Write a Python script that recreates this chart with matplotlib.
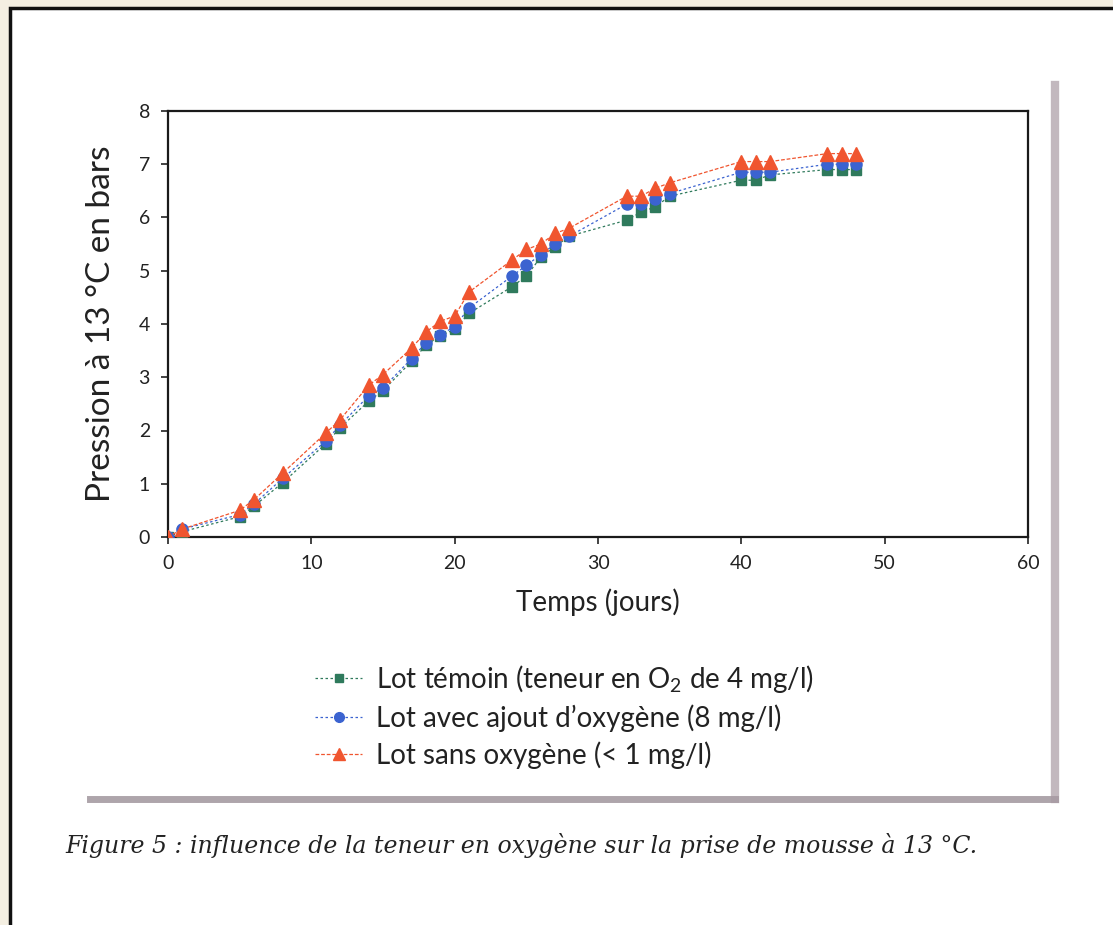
import matplotlib.pyplot as plt
from matplotlib.lines import Line2D
from matplotlib.patches import Rectangle

# days of measurement
jours = [0, 1, 5, 6, 8, 11, 12, 14, 15, 17, 18, 19, 20, 21, 24, 25, 26, 27, 28,
         32, 33, 34, 35, 40, 41, 42, 46, 47, 48]

# pressure (bars) at 13 C
temoin = [0, 0.10, 0.38, 0.58, 1.02, 1.75, 2.05, 2.55, 2.75, 3.30, 3.60, 3.78, 3.90, 4.20,
          4.70, 4.90, 5.25, 5.45, 5.65, 5.95, 6.10, 6.20, 6.40, 6.70, 6.70, 6.80, 6.90, 6.90, 6.90]
avec_o2 = [0, 0.15, 0.42, 0.62, 1.10, 1.80, 2.10, 2.65, 2.80, 3.35, 3.65, 3.80, 3.95, 4.30,
           4.90, 5.10, 5.30, 5.50, 5.65, 6.25, 6.25, 6.35, 6.45, 6.85, 6.85, 6.85, 7.00, 7.00, 7.00]
sans_o2 = [0, 0.15, 0.50, 0.70, 1.20, 1.95, 2.20, 2.85, 3.05, 3.55, 3.85, 4.05, 4.15, 4.60,
           5.20, 5.40, 5.50, 5.70, 5.80, 6.40, 6.40, 6.55, 6.65, 7.05, 7.05, 7.05, 7.20, 7.20, 7.20]

labels = ['Lot témoin (teneur en O$_2$ de 4 mg/l)',
          "Lot avec ajout d\u2019oxygène (8 mg/l)",
          'Lot sans oxygène (< 1 mg/l)']

plt.rcParams['font.family'] = ['Lato', 'DejaVu Sans']
plt.rcParams['mathtext.default'] = 'regular'

W, H = 1113, 925
fig = plt.figure(figsize=(W / 100, H / 100), dpi=100)
fig.patch.set_facecolor('#f4efe2')

# white page inside a black frame (scan screenshot)
fig.add_artist(Rectangle((10 / W, -0.05), 1.1, 1.05 - 8 / H, transform=fig.transFigure,
                         facecolor='white', edgecolor='#111111', lw=2.5, zorder=0))

ax = fig.add_axes([168 / W, 1 - 537 / H, (1028 - 168) / W, (537 - 111) / H])

ax.plot(jours, temoin, color='#2f7a5c', ls=(0, (2, 2)), lw=0.9, marker='s', ms=7,
        mfc='#2f7a5c', mec='#2f7a5c', zorder=3)
ax.plot(jours, avec_o2, color='#3b63d0', ls=(0, (2, 2)), lw=0.9, marker='o', ms=8,
        mfc='#3b63d0', mec='#3b63d0', zorder=4)
ax.plot(jours, sans_o2, color='#f0552f', ls=(0, (3, 1.5)), lw=0.9, marker='^', ms=10,
        mfc='#f0552f', mec='#f0552f', zorder=5)

ax.set_xlim(0, 60)
ax.set_ylim(0, 8)
ax.set_xticks([0, 10, 20, 30, 40, 50, 60])
ax.set_yticks(range(0, 9))
ax.tick_params(labelsize=14, length=5, width=1.2, colors='#222222', pad=8)
for s in ax.spines.values():
    s.set_linewidth(1.6)
    s.set_color('#1a1a1a')
ax.set_xlabel('Temps (jours)', fontsize=20, color='#222222', labelpad=12)
ax.set_ylabel('Pression à 13 °C en bars', fontsize=24, color='#222222', labelpad=16)

handles = [
    Line2D([], [], color='#2f7a5c', ls=(0, (2, 2)), lw=0.9, marker='s', ms=6),
    Line2D([], [], color='#3b63d0', ls=(0, (2, 2)), lw=0.9, marker='o', ms=7),
    Line2D([], [], color='#f0552f', ls=(0, (3, 1.5)), lw=0.9, marker='^', ms=8),
]
fig.legend(handles, labels, loc='upper left', bbox_to_anchor=(290 / W, 1 - 638 / H),
           frameon=False, fontsize=20, handlelength=1.7, handletextpad=0.5,
           labelspacing=0.34, labelcolor='#222222')

# grey streaks of the scanned frame and the caption
fig.add_artist(Line2D([90 / W, 1055 / W], [1 - 799 / H, 1 - 799 / H],
                      color='#9a8f96', lw=5, alpha=0.8))
fig.add_artist(Line2D([1055 / W, 1055 / W], [1 - 85 / H, 1 - 799 / H],
                      color='#a89aa3', lw=6, alpha=0.7))
fig.text(65 / W, 1 - 846 / H,
         'Figure 5 : influence de la teneur en oxygène sur la prise de mousse à 13 °C.',
         fontsize=17, style='italic', family=['DejaVu Serif'],
         color='#222222', va='center')

fig.savefig('out.png', dpi=100, facecolor=fig.get_facecolor())
